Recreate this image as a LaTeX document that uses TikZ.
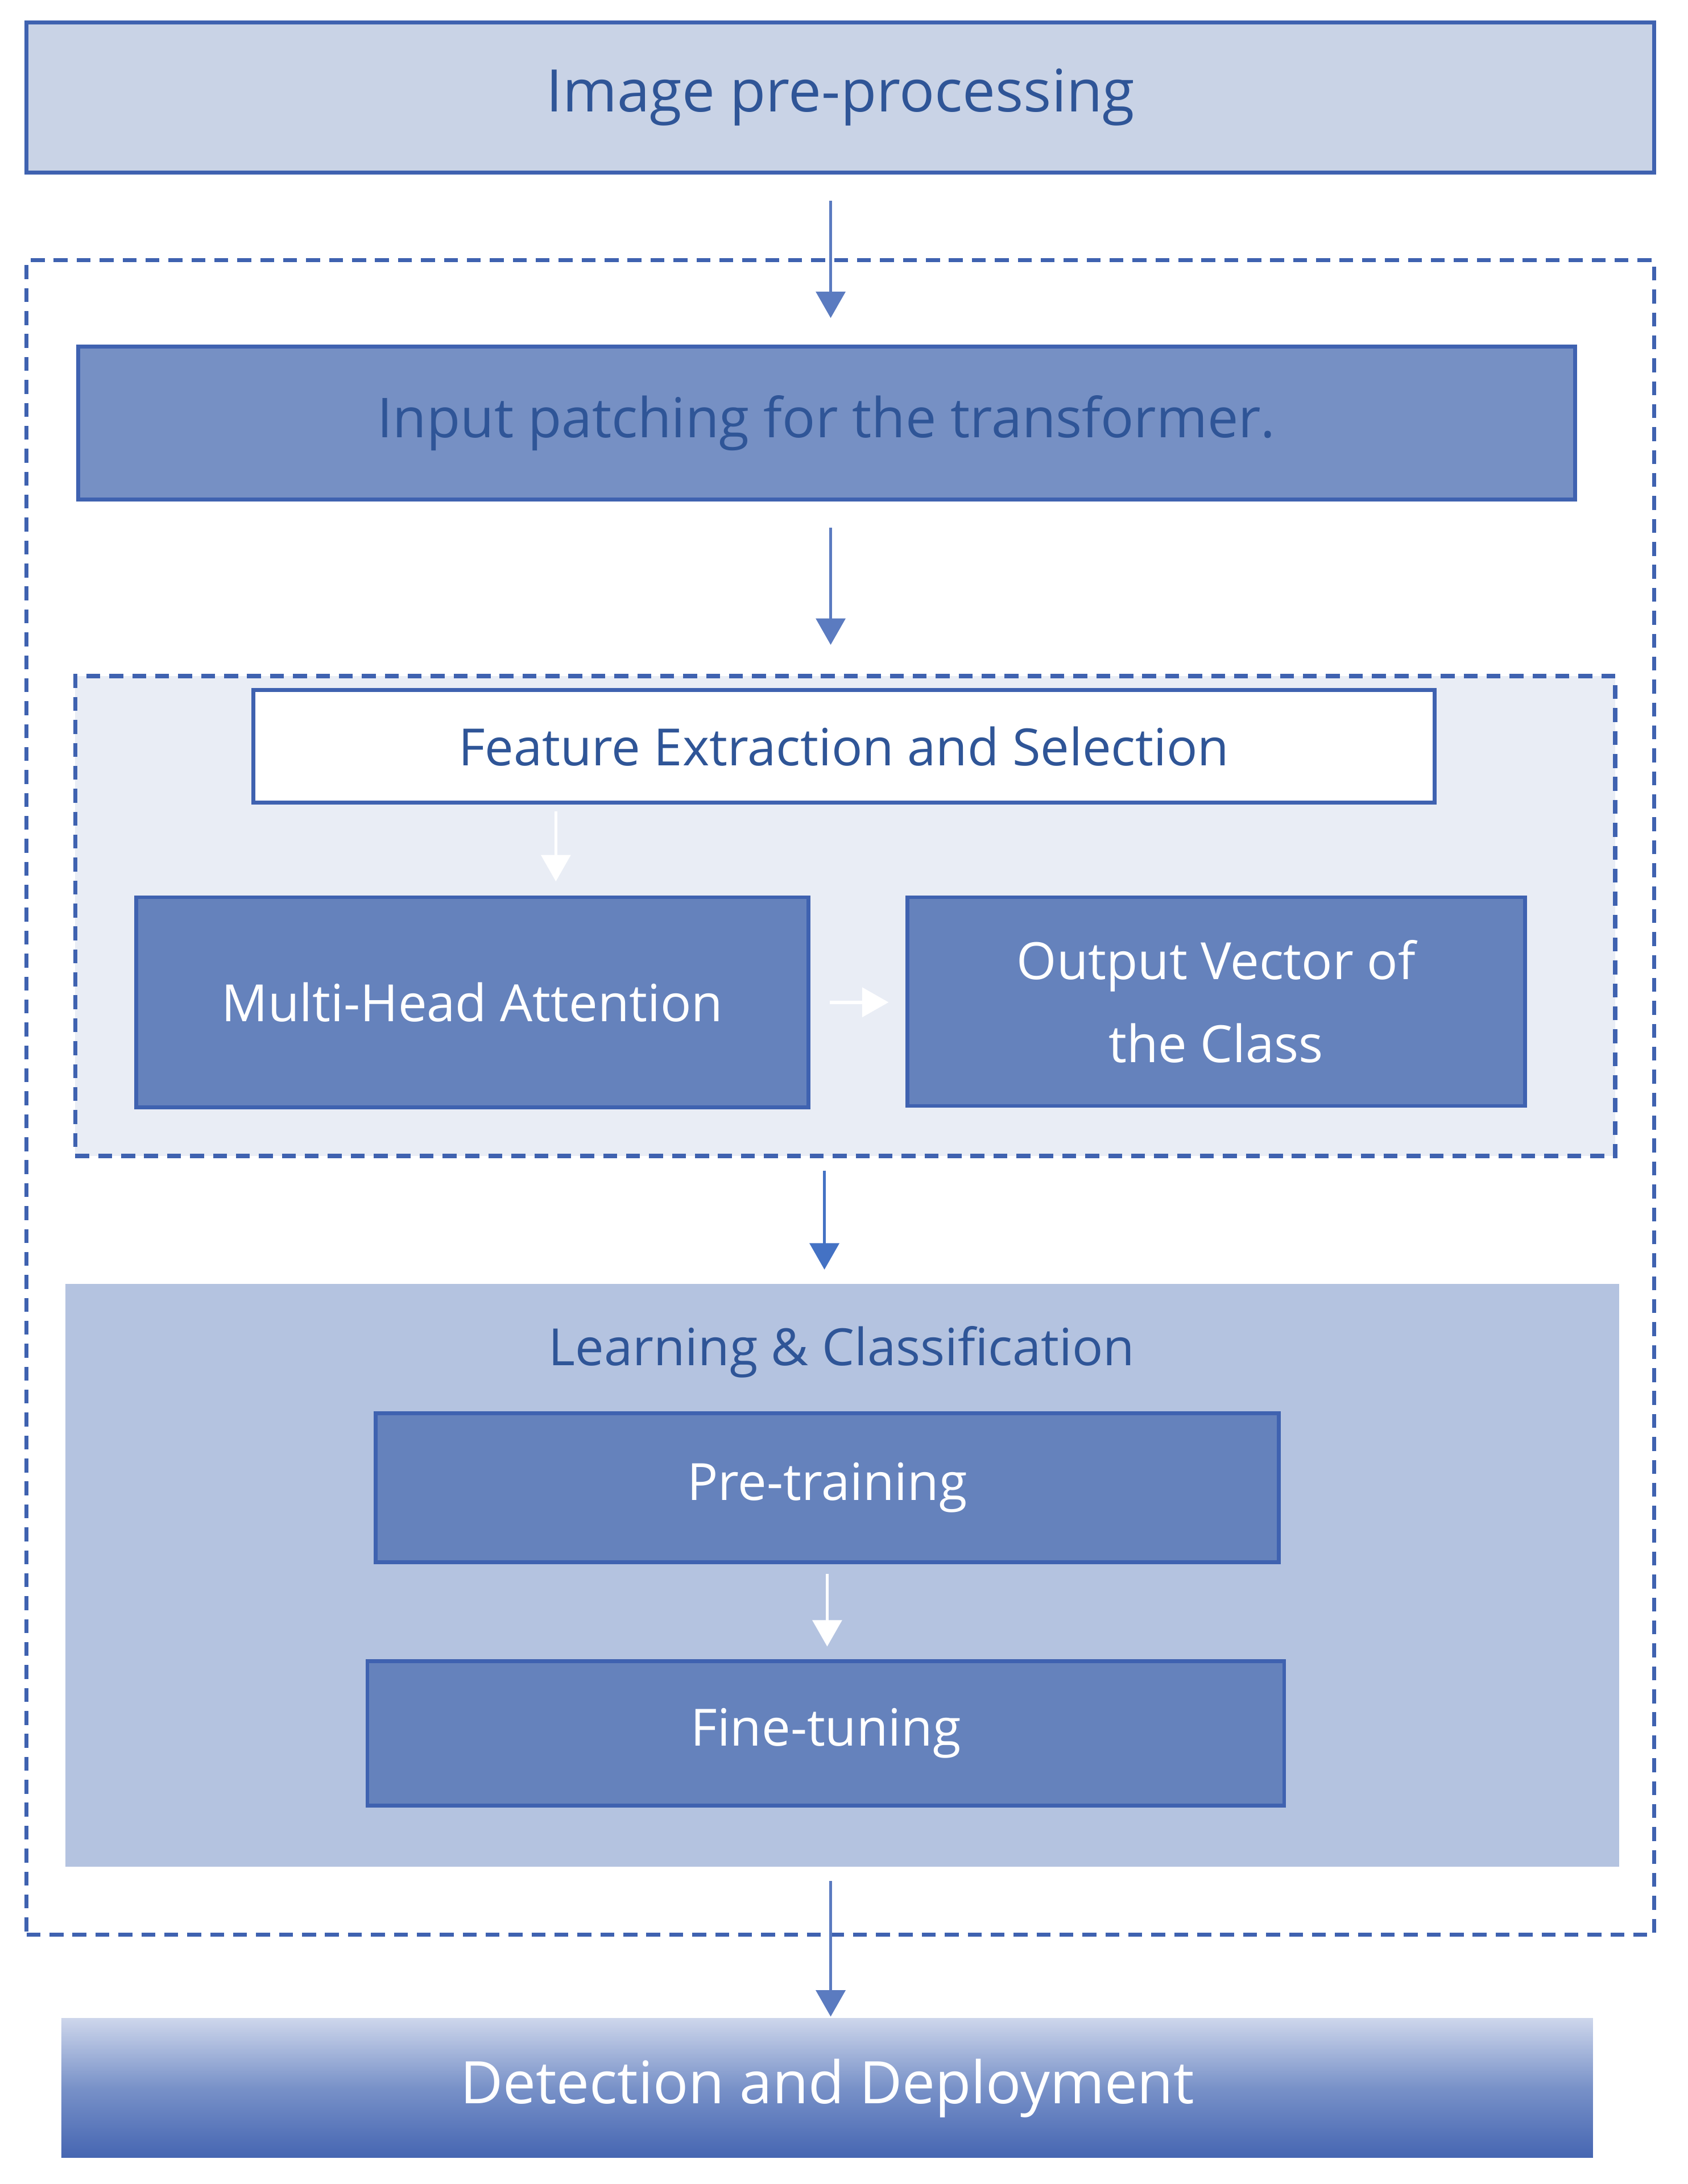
\documentclass[tikz,border=0pt]{standalone}
\usepackage{fontspec}
\setmainfont{Open Sans}
\usetikzlibrary{arrows.meta,calc}
\definecolor{dblue}{HTML}{2F5597}
\definecolor{bord}{HTML}{3F62B0}
\definecolor{arrc}{HTML}{5B7BC0}
\definecolor{midb}{HTML}{6582BC}
\definecolor{prefill}{HTML}{C9D3E6}
\definecolor{inpfill}{RGB}{118,144,196}
\definecolor{innfill}{RGB}{233,237,245}
\definecolor{lrnfill}{RGB}{180,195,224}
\definecolor{dettop}{RGB}{205,214,235}
\definecolor{detmid}{RGB}{120,145,200}
\definecolor{detbot}{RGB}{70,102,178}
\definecolor{arrdark}{HTML}{4472C4}
\begin{document}
\begin{tikzpicture}[x=0.02cm,y=-0.02cm,
  box/.style={draw=bord,line width=1.6pt,inner sep=0pt,align=center},
  dbox/.style={draw=bord,line width=1.7pt,dash pattern=on 0.2cm off 0.13cm,inner sep=0pt},
  arr/.style={draw=arrc,line width=1.3pt,-{Triangle[width=0.42cm,length=0.38cm]}},
  warr/.style={draw=white,line width=1.3pt,-{Triangle[width=0.42cm,length=0.38cm]}},
  f24/.style={font=\fontsize{24}{30}\selectfont},
  f21/.style={font=\fontsize{21}{34}\selectfont}]
\useasboundingbox (0,0) rectangle (1213,1570);
\fill[white] (0,0) rectangle (1213,1570);
\node[box,fill=prefill,minimum width=23.4cm,minimum height=2.16cm,text=dblue,f24] (pre) at (604,70) {Image pre-processing};
\node[dbox,minimum width=23.4cm,minimum height=24.08cm] (outer) at (604,789) {};
\node[box,fill=inpfill,minimum width=21.52cm,minimum height=2.2cm,text=dblue,font=\fontsize{22.5}{28}\selectfont] (input) at (594,304) {Input patching for the transformer.};
\node[dbox,fill=innfill,minimum width=22.14cm,minimum height=6.9cm] (inner) at (607.5,658.5) {};
\node[box,fill=white,minimum width=16.98cm,minimum height=1.62cm,text=dblue,f21] (feat) at (606.5,536.5) {Feature Extraction and Selection};
\node[box,fill=midb,minimum width=9.66cm,minimum height=3.02cm,text=white,f21] (mha) at (339.5,720.5) {Multi-Head Attention};
\node[box,fill=midb,minimum width=8.88cm,minimum height=3.0cm,text=white,f21] (out) at (874,720) {Output Vector of\\the Class};
\node[fill=lrnfill,minimum width=22.34cm,minimum height=8.38cm,inner sep=0pt] (learn) at (605.5,1132.5) {};
\node[text=dblue,f21] (ltitle) at (605,972) {Learning \& Classification};
\node[box,fill=midb,minimum width=12.98cm,minimum height=2.14cm,text=white,f21] (pt) at (594.5,1069.5) {Pre-training};
\node[box,fill=midb,minimum width=13.18cm,minimum height=2.08cm,text=white,f21] (ft) at (593.5,1246) {Fine-tuning};
\node[top color=dettop,bottom color=detbot,middle color=detmid,minimum width=22.02cm,minimum height=2.0cm,inner sep=0pt,text=white,f24] (det) at (594.5,1501) {Detection and Deployment};
\draw[arr,shorten <=0.38cm,shorten >=0.38cm] ([xshift=0.06cm]input.north |- pre.south) -- ([xshift=0.06cm]input.north);
\draw[arr,shorten <=0.38cm,shorten >=0.42cm] ([xshift=0.06cm]input.south) -- ([xshift=0.06cm]input.south |- inner.north);
\draw[warr,shorten <=0.1cm,shorten >=0.2cm] ([xshift=1.2cm]mha.north |- feat.south) -- ([xshift=1.2cm]mha.north);
\draw[warr,shorten <=0.28cm,shorten >=0.24cm] (mha.east) -- (mha.east -| out.west);
\draw[arr,draw=arrdark,fill=arrdark,shorten <=0.18cm,shorten >=0.2cm] ([xshift=-0.3cm]inner.south) -- ([xshift=-0.3cm]inner.south |- learn.north);
\draw[warr,shorten <=0.14cm,shorten >=0.18cm] (pt.south) -- (pt.south |- ft.north);
\draw[arr,shorten <=0.2cm,shorten >=0.02cm] ([xshift=-0.17cm]learn.south) -- ([xshift=-0.17cm]learn.south |- det.north);
\end{tikzpicture}
\end{document}
